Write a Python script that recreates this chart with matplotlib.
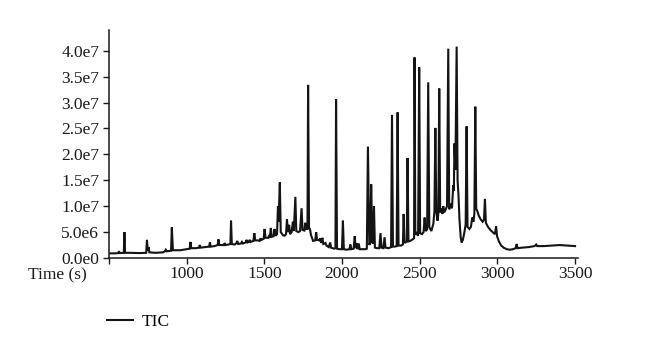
import matplotlib
matplotlib.use("Agg")
import matplotlib.pyplot as plt

# Traced TIC chromatogram vertices (time in s, intensity in counts)
time_s = [
    500, 540, 560, 565, 570, 596, 600, 604, 640, 700, 740, 745, 750, 755, 760,
    800, 850, 860, 866, 872, 900, 905, 912, 960, 1000, 1020, 1025, 1030, 1060,
    1080, 1085, 1090, 1120, 1145, 1150, 1155, 1180, 1200, 1205, 1210, 1240,
    1245, 1250, 1270, 1282, 1286, 1291, 1310, 1322, 1326, 1332, 1350, 1356,
    1362, 1380, 1386, 1392, 1400, 1406, 1412, 1430, 1436, 1442, 1460, 1470,
    1476, 1482, 1496, 1502, 1508, 1525, 1530, 1536, 1542, 1548, 1560, 1566,
    1572, 1582, 1588, 1592, 1600, 1606, 1620, 1630, 1640, 1646, 1652, 1660,
    1666, 1676, 1684, 1690, 1700, 1706, 1720, 1730, 1740, 1746, 1758, 1764,
    1770, 1778, 1782, 1788, 1794, 1800, 1814, 1828, 1834, 1840, 1854, 1860,
    1866, 1874, 1880, 1894, 1900, 1915, 1924, 1930, 1950, 1958, 1962, 1968,
    1985, 2000, 2006, 2012, 2030, 2048, 2054, 2060, 2075, 2082, 2088, 2095,
    2100, 2108, 2114, 2130, 2150, 2160, 2167, 2176, 2182, 2188, 2195, 2200,
    2206, 2212, 2225, 2240, 2248, 2254, 2266, 2274, 2280, 2300, 2316, 2322,
    2328, 2340, 2352, 2358, 2364, 2380, 2392, 2397, 2402, 2410, 2417, 2422,
    2428, 2440, 2455, 2464, 2467, 2472, 2480, 2490, 2497, 2503, 2515, 2525,
    2532, 2538, 2548, 2555, 2562, 2575, 2588, 2595, 2601, 2607, 2615, 2620,
    2626, 2632, 2640, 2646, 2652, 2658, 2668, 2676, 2684, 2690, 2700, 2708,
    2716, 2720, 2724, 2730, 2738, 2744, 2750, 2756, 2764, 2770, 2778, 2788,
    2796, 2802, 2808, 2820, 2830, 2838, 2846, 2852, 2858, 2864, 2872, 2880,
    2892, 2905, 2914, 2920, 2926, 2940, 2955, 2970, 2984, 2992, 2998, 3010,
    3025, 3040, 3060, 3080, 3100, 3118, 3124, 3130, 3160, 3200, 3240, 3250,
    3256, 3300, 3350, 3400, 3450, 3500,
]

tic_millions = [
    0.9, 0.9, 0.95, 1.3, 0.95, 1.0, 5.0, 1.0, 1.0, 0.95, 1.0, 3.5, 1.4, 2.1, 1.1,
    1.0, 1.1, 1.3, 1.6, 1.3, 1.4, 5.9, 1.5, 1.5, 1.7, 1.8, 3.1, 1.9, 1.9,
    2.0, 2.5, 2.0, 2.1, 2.2, 3.0, 2.2, 2.3, 2.5, 3.6, 2.5, 2.5,
    2.9, 2.5, 2.6, 2.7, 7.2, 2.7, 2.6, 2.9, 3.3, 2.7, 2.8, 3.1,
    2.8, 3.0, 3.5, 3.0, 3.1, 3.5, 3.1, 3.3, 4.8, 3.4, 3.4, 3.3,
    3.8, 3.5, 3.7, 5.6, 3.9, 3.9, 4.2, 3.9, 5.8, 4.1, 4.2, 5.6,
    4.3, 4.6, 10.0, 7.0, 14.6, 5.0, 4.4, 4.3, 4.6, 7.5, 5.0, 6.4,
    4.6, 5.0, 7.0, 5.2, 11.8, 5.2, 5.0, 5.2, 9.6, 5.4, 5.3, 6.8,
    5.6, 5.6, 33.4, 5.8, 5.6, 4.5, 3.3, 3.4, 5.0, 3.5, 3.4, 3.8,
    2.9, 3.9, 2.7, 2.9, 2.4, 2.1, 3.0, 2.0, 1.8, 1.9, 30.6, 1.8,
    1.7, 1.7, 7.2, 1.7, 1.6, 1.7, 2.6, 1.7, 1.8, 4.2, 1.9, 2.8,
    1.7, 2.8, 1.7, 1.7, 1.7, 1.8, 21.5, 2.5, 3.0, 14.2, 3.0, 2.8,
    10.0, 2.0, 1.9, 1.9, 4.8, 2.0, 1.9, 4.0, 2.0, 1.9, 2.1, 27.6,
    2.2, 2.2, 2.3, 28.1, 2.4, 2.4, 2.6, 8.5, 3.0, 3.0, 3.2, 19.3,
    3.2, 3.3, 3.6, 3.8, 38.7, 4.5, 4.8, 4.3, 36.8, 4.8, 4.6, 5.0,
    7.8, 5.2, 5.5, 33.9, 6.0, 5.2, 6.6, 9.0, 25.1, 9.0, 7.2, 8.5,
    32.7, 8.8, 9.6, 8.5, 10.0, 8.8, 9.4, 10.0, 40.4, 9.4, 10.5, 9.6,
    14.0, 13.0, 22.1, 17.0, 40.8, 15.0, 12.0, 7.5, 4.0, 3.0, 3.5, 5.0,
    6.5, 25.4, 6.0, 5.6, 6.0, 7.8, 7.0, 8.5, 29.2, 9.5, 9.0, 8.2,
    7.5, 7.0, 7.4, 11.4, 6.8, 6.0, 5.4, 5.0, 4.6, 6.1, 4.2, 3.2,
    2.4, 2.0, 1.7, 1.6, 1.7, 1.9, 2.7, 1.9, 2.0, 2.1, 2.3, 2.6,
    2.3, 2.3, 2.4, 2.5, 2.4, 2.3,
]

x_ticks = [500, 1000, 1500, 2000, 2500, 3000, 3500]
x_tick_labels = ["", "1000", "1500", "2000", "2500", "3000", "3500"]
y_ticks = [0, 5e6, 1e7, 1.5e7, 2e7, 2.5e7, 3e7, 3.5e7, 4e7]
y_tick_labels = ["0.0e0", "5.0e6", "1.0e7", "1.5e7", "2.0e7", "2.5e7",
                 "3.0e7", "3.5e7", "4.0e7"]
series_label = "TIC"
x_label = "Time (s)"

plt.rcParams["font.family"] = ["Liberation Serif", "DejaVu Serif"]

fig = plt.figure(figsize=(6.6, 3.58), dpi=100)
ax = fig.add_axes([0.165, 0.2793, 0.711, 0.637])

tic = [v * 1e6 for v in tic_millions]
line, = ax.plot(time_s, tic, color="#141414", lw=1.5, label=series_label,
                solid_joinstyle="miter")

ax.set_xlim(500, 3520)
ax.set_ylim(0, 4.4e7)
ax.set_xticks(x_ticks)
ax.set_xticklabels(x_tick_labels)
ax.set_yticks(y_ticks)
ax.set_yticklabels(y_tick_labels)
ax.tick_params(axis="both", direction="out", length=4, width=1.0,
               labelsize=12.5, colors="#1a1a1a")
ax.tick_params(axis="x", pad=1.5)
ax.tick_params(axis="y", pad=3)
for s in ("top", "right"):
    ax.spines[s].set_visible(False)
for s in ("left", "bottom"):
    ax.spines[s].set_linewidth(1.1)
    ax.spines[s].set_color("#1a1a1a")

fig.text(28 / 660, 1 - 275 / 358, x_label, ha="left", va="center",
         fontsize=12.5, color="#1a1a1a")

fig.legend(handles=[line], loc="center left",
           bbox_to_anchor=(100 / 660, 1 - 322 / 358), frameon=False,
           fontsize=12.5, handlelength=1.5, handletextpad=0.5,
           borderaxespad=0)

fig.savefig("out.png", dpi=100)
